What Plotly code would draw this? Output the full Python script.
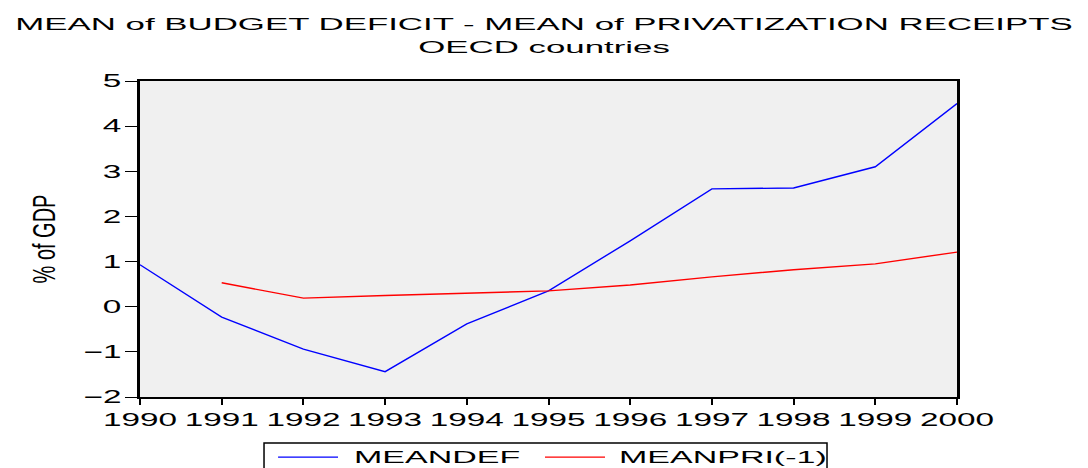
import plotly.graph_objects as go

years = [1990, 1991, 1992, 1993, 1994, 1995, 1996, 1997, 1998, 1999, 2000]
meandef = [0.93, -0.23, -0.94, -1.44, -0.38, 0.35, 1.46, 2.61, 2.63, 3.10, 4.50]
meanpri_years = [1991, 1992, 1993, 1994, 1995, 1996, 1997, 1998, 1999, 2000]
meanpri_lag = [0.53, 0.19, 0.25, 0.30, 0.35, 0.48, 0.66, 0.82, 0.95, 1.21]
y_ticks = [-2, -1, 0, 1, 2, 3, 4, 5]
y_tick_text = ["\u22122", "\u22121", "0", "1", "2", "3", "4", "5"]
series_names = ["MEANDEF", "MEANPRI(-1)"]
series_colors = ["#0000ff", "#ff0000"]

FONT = "Liberation Sans, Arial, sans-serif"

fig = go.Figure()
fig.add_trace(go.Scatter(x=years, y=meandef, mode="lines", name=series_names[0],
                         line=dict(color=series_colors[0], width=1.4), showlegend=False))
fig.add_trace(go.Scatter(x=meanpri_years, y=meanpri_lag, mode="lines", name=series_names[1],
                         line=dict(color=series_colors[1], width=1.4), showlegend=False))

# Key box under the plot (cut by the bottom edge of the page)
key_y = -0.19
fig.add_shape(type="rect", xref="paper", yref="paper", x0=0.1518, x1=0.8409, y0=-0.1456, y1=-0.30,
              line=dict(color="black", width=1.5), fillcolor="white", layer="above")
key_slots = [(0.1690, 0.2424, 0.2595), (0.4957, 0.5692, 0.5838)]
for (lx0, lx1, tx), name, color in zip(key_slots, series_names, series_colors):
    fig.add_shape(type="line", xref="paper", yref="paper", x0=lx0, x1=lx1, y0=key_y, y1=key_y,
                  line=dict(color=color, width=1.2), layer="above")
    fig.add_annotation(xref="paper", yref="paper", x=tx, y=key_y, xanchor="left", yanchor="middle",
                       text=name, showarrow=False, font=dict(size=17, family=FONT, color="black"))

fig.update_layout(
    width=1088, height=468,
    margin=dict(l=140, r=131, t=81, b=71, autoexpand=False),
    paper_bgcolor="white",
    plot_bgcolor="#f0f0f0",
    font=dict(family=FONT, color="black"),
    title=dict(
        text="MEAN of BUDGET DEFICIT - MEAN of PRIVATIZATION RECEIPTS<br>OECD countries",
        x=0.5, xanchor="center", xref="container", yref="container", y=0.935, yanchor="top",
        font=dict(size=17, family=FONT),
    ),
    showlegend=False,
)

fig.update_xaxes(
    range=[1990, 2000], tickmode="array", tickvals=years,
    ticks="outside", ticklen=6, tickwidth=2, tickcolor="black",
    showline=True, linecolor="black", linewidth=1.5, mirror=True,
    showgrid=False, zeroline=False,
    tickfont=dict(size=18, family=FONT),
)
fig.update_yaxes(
    range=[-2, 5], tickmode="array", tickvals=y_ticks, ticktext=y_tick_text,
    ticks="outside", ticklen=12, tickwidth=1.2, tickcolor="black",
    showline=True, linecolor="black", linewidth=3, mirror=True,
    showgrid=False, zeroline=False,
    tickfont=dict(size=18, family=FONT),
    title=dict(text="% of GDP", font=dict(size=20, family=FONT), standoff=40),
)

# Widen the lettering horizontally (the chart uses a wide face).
stretch_js = """
var gd = document.getElementById('{plot_id}');
function widen(el, s, where) {
  var b = el.getBBox();
  var p = where === 'left' ? b.x : (where === 'right' ? b.x + b.width : b.x + b.width / 2);
  var tr = el.getAttribute('transform') || '';
  el.setAttribute('transform', tr + ' translate(' + p + ',0) scale(' + s + ',1) translate(' + (-p) + ',0)');
}
gd.querySelectorAll('.gtitle').forEach(function (el) { widen(el, 2.05, 'center'); });
gd.querySelectorAll('.xtick text').forEach(function (el) { widen(el, 1.85, 'center'); });
gd.querySelectorAll('.ytick text').forEach(function (el) { widen(el, 1.85, 'right'); });
gd.querySelectorAll('.annotation-text').forEach(function (el) { widen(el, 2.0, 'left'); });
gd.querySelectorAll('.ytitle').forEach(function (el) {
  var x = parseFloat(el.getAttribute('x')) || 0;
  var tr = el.getAttribute('transform') || '';
  el.setAttribute('transform', 'translate(' + x + ',0) scale(1.6,1) translate(' + (-x) + ',0) ' + tr);
});
"""

fig.write_html("out.html", post_script=stretch_js)
